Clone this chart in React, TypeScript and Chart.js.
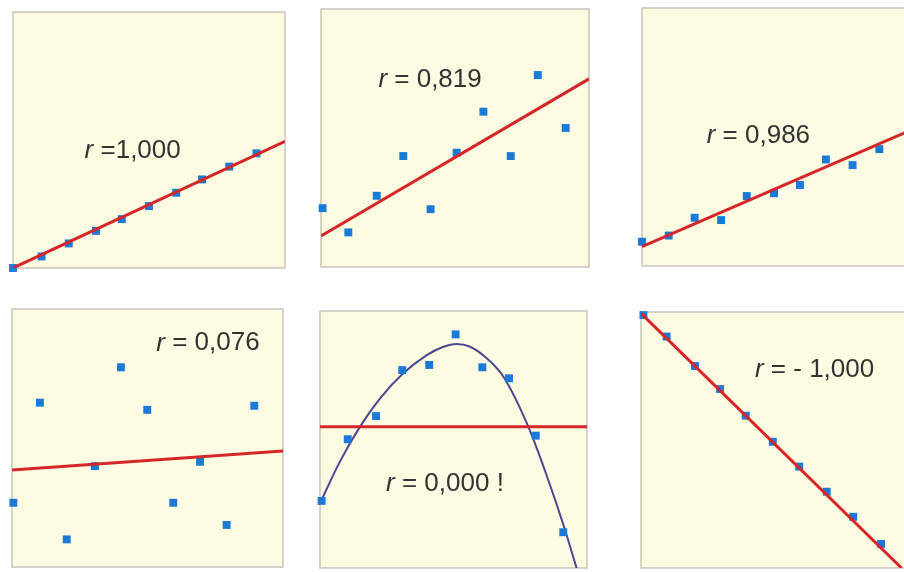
import React, { useEffect, useRef } from "react";
import { Chart, registerables } from "chart.js";

Chart.register(...registerables);

// ---------- data (panel units: x 0..100, y 0..100) ----------
const p1X = [0, 10.5, 20.5, 30.5, 40, 50, 60, 69.5, 79.5, 89.5];
const p1Y = [0, 4.5, 9.6, 14.5, 19.1, 24.2, 29.4, 34.6, 39.6, 44.8];
const p1FitX = [0, 100];
const p1FitY = [0, 49.5];

const p2X = [0.6, 10.2, 20.8, 30.7, 40.9, 50.6, 60.6, 70.8, 80.9, 91.3];
const p2Y = [22.8, 13.4, 27.6, 43.0, 22.4, 44.3, 60.2, 43.0, 74.4, 53.9];
const p2FitX = [0, 100];
const p2FitY = [12.0, 72.9];

const p3X = [0, 9.9, 19.5, 29.3, 38.8, 48.9, 58.5, 68.1, 78.0, 87.9];
const p3Y = [9.4, 11.8, 18.7, 17.8, 27.1, 28.2, 31.4, 41.3, 39.1, 45.3];
const p3FitX = [0, 100];
const p3FitY = [7.5, 52.9];

const p4X = [0.5, 10.3, 20.2, 30.6, 40.2, 49.9, 59.5, 69.4, 79.2, 89.4];
const p4Y = [24.9, 63.7, 10.7, 39.1, 77.4, 60.9, 24.9, 40.8, 16.3, 62.5];
const p4FitX = [0, 100];
const p4FitY = [37.6, 45.0];

const p5X = [0.6, 10.4, 21.0, 30.8, 40.9, 50.8, 60.8, 70.8, 80.8, 91.1];
const p5Y = [26.1, 50.1, 59.1, 77.0, 79.0, 90.9, 78.1, 73.8, 51.5, 13.9];
const p5FitX = [0, 100];
const p5FitY = [55.0, 55.0];
const p5CurveX = [0, 7.5, 15.0, 22.5, 30.6, 40.0, 46.0, 51.2, 56.0, 62.0, 68.7, 78.0, 84.9, 91.1, 96.1];
const p5CurveY = [25.2, 41.5, 55.0, 66.0, 75.2, 82.8, 86.0, 87.2, 86.2, 82.0, 74.4, 55.0, 36.0, 17.0, 0.0];

const p6X = [0.9, 9.5, 20.0, 29.3, 38.8, 48.8, 58.6, 68.8, 78.6, 88.9];
const p6Y = [98.8, 90.4, 78.9, 69.9, 59.5, 49.3, 39.6, 29.8, 20.0, 9.4];
const p6FitX = [0, 96.5];
const p6FitY = [99.5, 0];

const rLabels = ["r =1,000", "r = 0,819", "r = 0,986", "r = 0,076", "r = 0,000 !", "r = - 1,000"];

// ---------- layout / style ----------
const PAD = 8;
const BG = "#fdfbe2";
const BORDER = "#c6c5bc";
const BLUE = "#1a7ad6";
const RED = "#d5262a";
const CURVE = "#4a4890";
const TEXT = "#333333";

type Panel = {
  left: number; top: number; w: number; h: number;
  px: number[]; py: number[];
  fx: number[]; fy: number[];
  cx?: number[]; cy?: number[];
  label: string; lx: number; ly: number;
};

const panels: Panel[] = [
  { left: 13, top: 12, w: 272, h: 256, px: p1X, py: p1Y, fx: p1FitX, fy: p1FitY, label: rLabels[0], lx: 44, ly: 45.7 },
  { left: 321, top: 9, w: 268, h: 258, px: p2X, py: p2Y, fx: p2FitX, fy: p2FitY, label: rLabels[1], lx: 40.7, ly: 72.5 },
  { left: 642, top: 8, w: 270, h: 258, px: p3X, py: p3Y, fx: p3FitX, fy: p3FitY, label: rLabels[2], lx: 43.1, ly: 50.4 },
  { left: 12, top: 309, w: 271, h: 258, px: p4X, py: p4Y, fx: p4FitX, fy: p4FitY, label: rLabels[3], lx: 72.3, ly: 86.7 },
  { left: 320, top: 311, w: 267, h: 257, px: p5X, py: p5Y, fx: p5FitX, fy: p5FitY, cx: p5CurveX, cy: p5CurveY, label: rLabels[4], lx: 46.8, ly: 32.7 },
  { left: 641, top: 312, w: 270, h: 256, px: p6X, py: p6Y, fx: p6FitX, fy: p6FitY, label: rLabels[5], lx: 64.3, ly: 77.3 },
];

const toXY = (xs: number[], ys: number[]) => xs.map((x, i) => ({ x, y: ys[i] }));

function PanelChart({ p }: { p: Panel }) {
  const ref = useRef<HTMLCanvasElement | null>(null);
  useEffect(() => {
    if (!ref.current) return;
    const datasets: any[] = [
      {
        type: "scatter",
        data: toXY(p.fx, p.fy),
        showLine: true,
        borderColor: RED,
        borderWidth: 3,
        pointRadius: 0,
        order: 0,
      },
      {
        type: "scatter",
        data: toXY(p.px, p.py),
        pointStyle: "rect",
        pointRadius: 5.6,
        backgroundColor: BLUE,
        borderWidth: 0,
        clip: false,
        order: 1,
      },
    ];
    if (p.cx && p.cy) {
      datasets.push({
        type: "scatter",
        data: toXY(p.cx, p.cy),
        showLine: true,
        borderColor: CURVE,
        borderWidth: 2,
        pointRadius: 0,
        cubicInterpolationMode: "monotone",
        order: 2,
      });
    }
    const panelPlugin = {
      id: "panelDeco",
      beforeDatasetsDraw(chart: any) {
        const { ctx, chartArea: a } = chart;
        ctx.save();
        ctx.fillStyle = BG;
        ctx.fillRect(a.left, a.top, a.right - a.left, a.bottom - a.top);
        ctx.strokeStyle = BORDER;
        ctx.lineWidth = 1.5;
        ctx.strokeRect(a.left, a.top, a.right - a.left, a.bottom - a.top);
        ctx.restore();
      },
      afterDatasetsDraw(chart: any) {
        const { ctx } = chart;
        const xs = chart.scales.x;
        const ys = chart.scales.y;
        const cxp = xs.getPixelForValue(p.lx);
        const cyp = ys.getPixelForValue(p.ly);
        const first = p.label.slice(0, 1);
        const rest = p.label.slice(1);
        ctx.save();
        ctx.fillStyle = TEXT;
        ctx.textBaseline = "middle";
        ctx.textAlign = "left";
        const fItal = "italic 26px 'Liberation Sans', Arial, sans-serif";
        const fNorm = "26px 'Liberation Sans', Arial, sans-serif";
        ctx.font = fItal;
        const w1 = ctx.measureText(first).width;
        ctx.font = fNorm;
        const w2 = ctx.measureText(rest).width;
        const start = cxp - (w1 + w2) / 2;
        ctx.font = fItal;
        ctx.fillText(first, start, cyp);
        ctx.font = fNorm;
        ctx.fillText(rest, start + w1, cyp);
        ctx.restore();
      },
    };
    const chart = new Chart(ref.current, {
      type: "scatter",
      data: { datasets },
      options: {
        animation: false,
        responsive: false,
        maintainAspectRatio: false,
        devicePixelRatio: 1,
        layout: { padding: PAD },
        events: [],
        plugins: { legend: { display: false }, tooltip: { enabled: false } },
        scales: {
          x: { type: "linear", min: 0, max: 100, display: false },
          y: { type: "linear", min: 0, max: 100, display: false },
        },
      },
      plugins: [panelPlugin],
    } as any);
    return () => chart.destroy();
  }, [p]);
  return (
    <canvas
      ref={ref}
      width={p.w + 2 * PAD}
      height={p.h + 2 * PAD}
      style={{
        position: "absolute",
        left: p.left - PAD,
        top: p.top - PAD,
        width: p.w + 2 * PAD,
        height: p.h + 2 * PAD,
      }}
    />
  );
}

export default function App() {
  return (
    <div
      style={{
        position: "absolute",
        left: 0,
        top: 0,
        width: 904,
        height: 572,
        overflow: "hidden",
        background: "#ffffff",
      }}
    >
      {panels.map((p, i) => (
        <PanelChart key={i} p={p} />
      ))}
    </div>
  );
}
